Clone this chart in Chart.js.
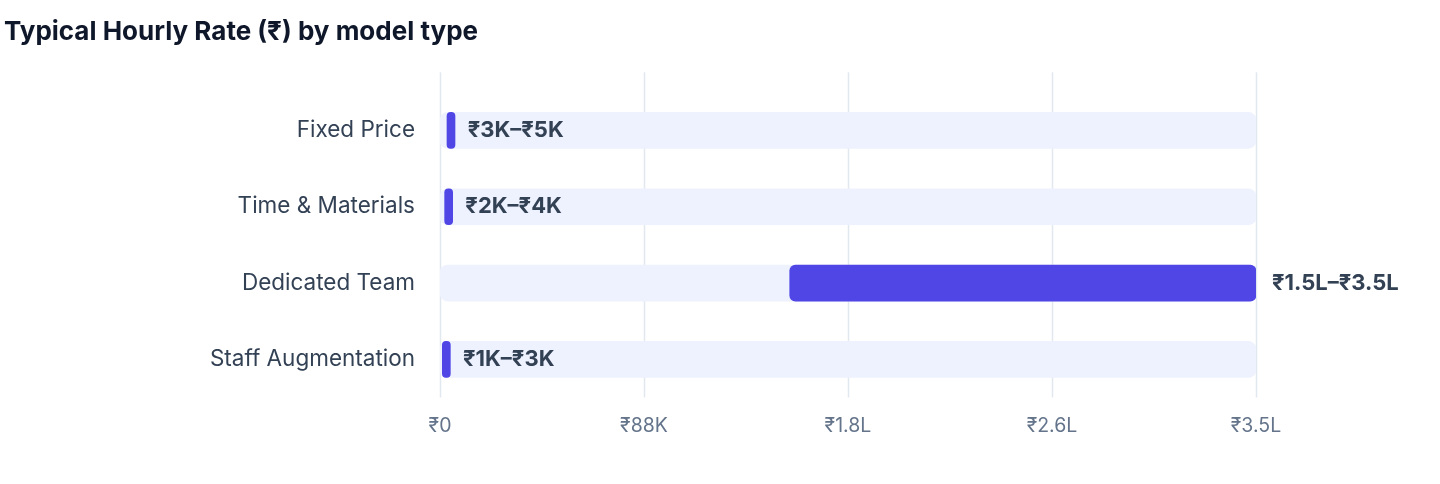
<!DOCTYPE html>
<html>
<head>
<meta charset="utf-8">
<script src="https://cdn.jsdelivr.net/npm/chart.js@4/dist/chart.umd.min.js"></script>
<style>
  html, body { margin: 0; padding: 0; background: #fff; }
  #wrap { width: 1440px; height: 484px; position: relative; }
</style>
</head>
<body>
<div id="wrap"><canvas id="rateChart"></canvas></div>
<script>
const models = ["Fixed Price", "Time & Materials", "Dedicated Team", "Staff Augmentation"];
const rateLow = [3000, 2000, 150000, 1000];
const rateHigh = [5000, 4000, 350000, 3000];
const rangeLabels = ["₹3K–₹5K", "₹2K–₹4K", "₹1.5L–₹3.5L", "₹1K–₹3K"];
const axisMax = 350000;
const axisStep = 87500;

const fontFamily = "Inter, 'Liberation Sans', 'Noto Sans', sans-serif";

// format rupee ticks like ₹88K / ₹1.8L
formatRupee = (v) => {
    if (v === 0) return "₹0";
    if (v >= 100000) return "₹" + (v / 100000).toFixed(1) + "L";
    return "₹" + Math.round(v / 1000) + "K";
};

// vertical grid lines, drawn a bit above the plot area like the original
const gridPlugin = {
    id: "tallGrid",
    beforeDatasetsDraw(chart) {
        const { ctx, chartArea, scales } = chart;
        const x = scales.x;
        ctx.save();
        ctx.strokeStyle = "#E2E8F0";
        ctx.lineWidth = 1.5;
        x.ticks.forEach((t, i) => {
            const px = Math.round(x.getPixelForTick(i)) + 0.5;
            ctx.beginPath();
            ctx.moveTo(px, chartArea.top - 20);
            ctx.lineTo(px, chartArea.bottom);
            ctx.stroke();
        });
        ctx.restore();
    },
};

// range text right after each bar
const labelPlugin = {
    id: "rangeText",
    afterDatasetsDraw(chart) {
        const { ctx, scales } = chart;
        const meta = chart.getDatasetMeta(0);
        ctx.save();
        ctx.font = "bold 22px " + fontFamily;
        ctx.fillStyle = "#334155";
        ctx.textBaseline = "middle";
        ctx.textAlign = "left";
        meta.data.forEach((bar, i) => {
            const px = scales.x.getPixelForValue(rateHigh[i]) + 16;
            ctx.fillText(rangeLabels[i], px, bar.y);
        });
        ctx.restore();
    },
};

const chartData = {
    labels: models,
    datasets: [
        {
            label: "Range",
            data: models.map((m, i) => [rateLow[i], rateHigh[i]]),
            backgroundColor: "#4F46E5",
            borderRadius: 6,
            borderSkipped: false,
            barThickness: 36,
            minBarLength: 8,
        },
        {
            label: "Track",
            data: models.map(() => [0, axisMax]),
            backgroundColor: "#EEF1FE",
            borderRadius: 8,
            borderSkipped: false,
            barThickness: 36,
        },
    ],
};

const config = {
    type: "bar",
    data: chartData,
    options: {
        indexAxis: "y",
        responsive: true,
        maintainAspectRatio: false,
        animation: false,
        grouped: false,
        layout: { padding: { left: 4, right: 184, top: 0, bottom: 37 } },
        plugins: {
            legend: { display: false },
            tooltip: { enabled: false },
            title: {
                display: true,
                text: "Typical Hourly Rate (₹) by model type",
                align: "start",
                color: "#0F172A",
                font: { family: fontFamily, size: 26, weight: "bold" },
                padding: { top: 17, bottom: 44 },
            },
        },
        scales: {
            x: {
                min: 0,
                max: axisMax,
                grid: { display: false },
                border: { display: false },
                ticks: {
                    stepSize: axisStep,
                    color: "#64748B",
                    padding: 9,
                    font: { family: fontFamily, size: 19.5 },
                    callback: (v) => formatRupee(v),
                },
            },
            y: {
                grid: { display: false },
                border: { display: false },
                afterFit: (scale) => { scale.width = 436; },
                ticks: {
                    color: "#334155",
                    padding: 17,
                    font: { family: fontFamily, size: 22.5 },
                },
            },
        },
    },
    plugins: [gridPlugin, labelPlugin],
};

const rateChart = new Chart(document.getElementById("rateChart"), config);
</script>
</body>
</html>
